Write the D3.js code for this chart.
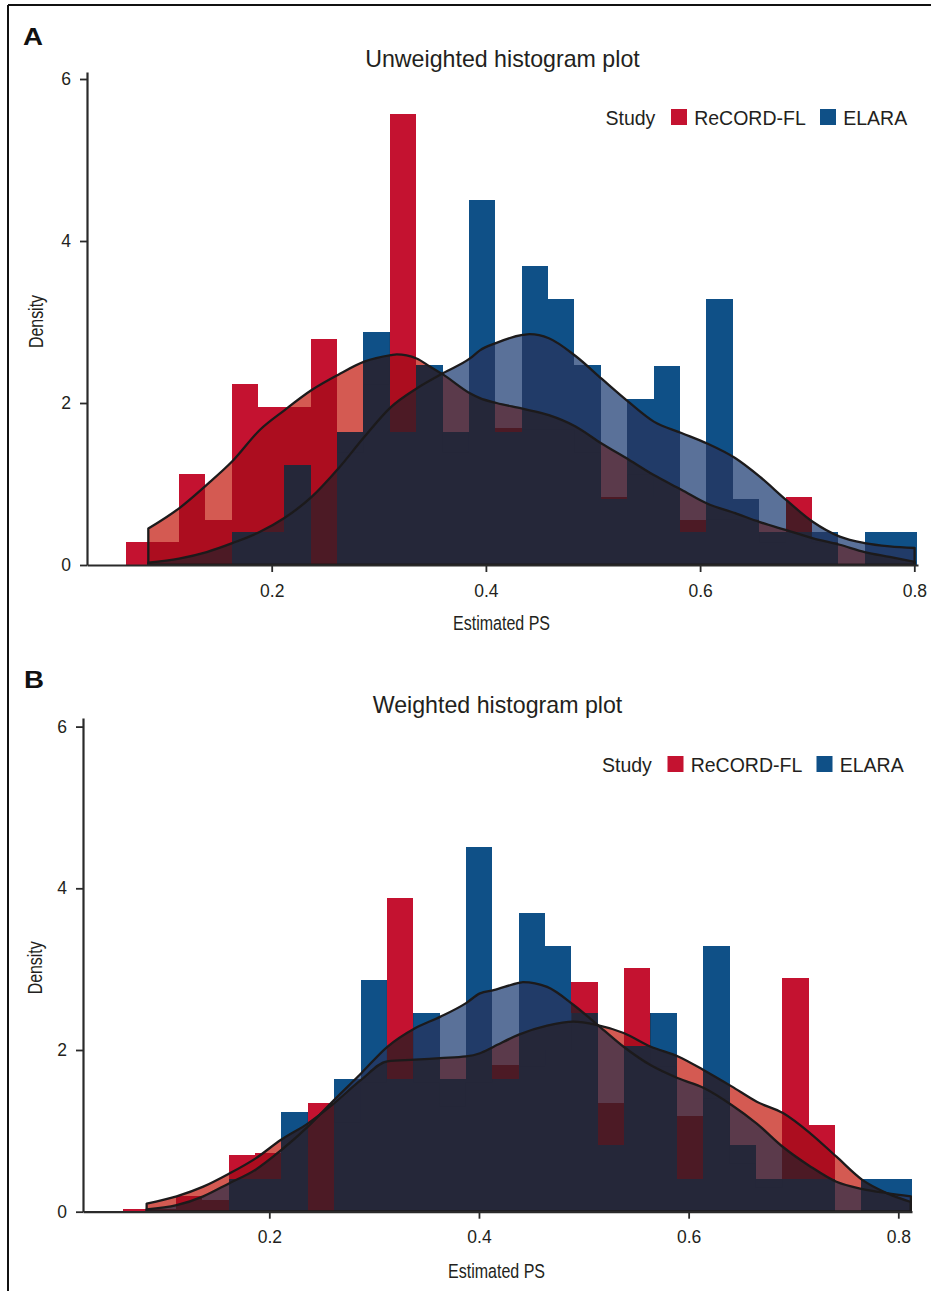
<!DOCTYPE html>
<html>
<head>
<meta charset="utf-8">
<script src="https://cdn.jsdelivr.net/npm/d3@7"></script>
<style>
  html, body { margin: 0; padding: 0; background: #fff; }
  svg { display: block; }
</style>
</head>
<body>
<svg id="chart" width="931" height="1291"></svg>
<script>
// ---------------- DATA ----------------
const studies = ["ReCORD-FL", "ELARA"];
const xTickValues = [0.2, 0.4, 0.6, 0.8];
const yTickValues = [0, 2, 4, 6];
const xTickLabels = ["0.2", "0.4", "0.6", "0.8"];
const yTickLabels = ["0", "2", "4", "6"];

// Panel A (unweighted): 30 bins
const binStartA = 0.0640;
const binWidthA = 0.02463;
const recordA = [0.28, 0.28, 1.12, 0.56, 2.23, 1.95, 1.95, 2.79, 1.39, 2.23,
                 5.57, 1.95, 1.39, 1.95, 1.69, 1.67, 1.67, 1.39, 0.84, 1.12,
                 0.84, 0.56, 0.56, 0.56, 0.28, 0.84, 0.28, 0, 0, 0];
const elaraA  = [0, 0, 0, 0, 0.41, 0.41, 1.23, 0, 1.64, 2.88,
                 1.64, 2.47, 1.64, 4.51, 1.64, 3.69, 3.28, 2.47, 0.82, 2.05,
                 2.46, 0.41, 3.28, 0.82, 0.41, 0.41, 0.41, 0, 0.41, 0.41];
const recordKdeA = [[0.0848,0.45],[0.1135,0.70],[0.1393,0.99],[0.1632,1.28],[0.1891,1.67],
  [0.2118,1.91],[0.2373,2.16],[0.2622,2.35],[0.2864,2.51],[0.3113,2.59],[0.3167,2.60],
  [0.3353,2.55],[0.3477,2.45],[0.3602,2.35],[0.3851,2.12],[0.3944,2.06],[0.4100,2.00],
  [0.4342,1.93],[0.4588,1.85],[0.4837,1.71],[0.5080,1.50],[0.5335,1.30],[0.5568,1.11],
  [0.5826,0.93],[0.6065,0.76],[0.6327,0.64],[0.6557,0.53],[0.6806,0.43],[0.7055,0.33],
  [0.7304,0.25],[0.7537,0.16],[0.7770,0.10],[0.8003,0.04]];
const elaraKdeA = [[0.0848,0.03],[0.1135,0.08],[0.1393,0.16],[0.1632,0.27],[0.1891,0.41],
  [0.2118,0.58],[0.2373,0.84],[0.2622,1.19],[0.2864,1.58],[0.3113,1.95],[0.3353,2.18],
  [0.3602,2.37],[0.3851,2.55],[0.3944,2.65],[0.4093,2.74],[0.4342,2.84],[0.4410,2.85],
  [0.4588,2.80],[0.4837,2.58],[0.5080,2.30],[0.5335,2.01],[0.5568,1.77],[0.5826,1.63],
  [0.6065,1.50],[0.6327,1.32],[0.6557,1.09],[0.6806,0.80],[0.7055,0.53],[0.7304,0.35],
  [0.7537,0.27],[0.7770,0.23],[0.8003,0.21]];

// Panel B (weighted): 30 bins
const binStartB = 0.0607;
const binWidthB = 0.025145;
const recordB = [0.035, 0.035, 0.19, 0.14, 0.70, 0.73, 0.80, 1.34, 1.10, 1.60,
                 3.88, 1.60, 1.30, 1.60, 1.81, 1.80, 2.00, 2.84, 1.34, 3.01,
                 1.80, 1.18, 1.40, 0.60, 0.30, 2.89, 1.07, 0, 0, 0];
const elaraB  = [0, 0, 0, 0, 0.41, 0.41, 1.23, 0, 1.64, 2.87,
                 1.64, 2.46, 1.64, 4.51, 1.64, 3.69, 3.29, 2.46, 0.82, 2.05,
                 2.46, 0.41, 3.29, 0.82, 0.41, 0.41, 0.41, 0, 0.41, 0.41];
const recordKdeB = [[0.0830,0.10],[0.1116,0.19],[0.1370,0.31],[0.1615,0.47],[0.1870,0.66],
  [0.2112,0.89],[0.2366,1.09],[0.2617,1.34],[0.2875,1.63],[0.3126,1.86],[0.3390,1.88],
  [0.3629,1.90],[0.3877,1.92],[0.4010,1.96],[0.4140,2.04],[0.4380,2.19],[0.4650,2.30],
  [0.4900,2.35],[0.5120,2.31],[0.5380,2.21],[0.5640,2.04],[0.5900,1.92],[0.6145,1.75],
  [0.6410,1.55],[0.6650,1.36],[0.6900,1.22],[0.7160,0.97],[0.7410,0.68],[0.7660,0.39],
  [0.7890,0.23],[0.8120,0.12]];
const elaraKdeB = [[0.0830,0.03],[0.1116,0.08],[0.1370,0.19],[0.1615,0.35],[0.1870,0.52],
  [0.2112,0.76],[0.2366,1.05],[0.2617,1.38],[0.2875,1.71],[0.3126,2.04],[0.3390,2.27],
  [0.3629,2.41],[0.3877,2.58],[0.4010,2.70],[0.4140,2.74],[0.4380,2.83],[0.4420,2.84],
  [0.4650,2.78],[0.4900,2.56],[0.5150,2.29],[0.5380,2.04],[0.5640,1.81],[0.5900,1.65],
  [0.6145,1.53],[0.6410,1.32],[0.6650,1.09],[0.6900,0.80],[0.7160,0.56],[0.7410,0.37],
  [0.7660,0.28],[0.7890,0.23],[0.8120,0.19]];

// ---------------- STYLE ----------------
const FONT = "'Liberation Sans', Arial, Helvetica, sans-serif";
const C = {
  red: "#C41230", blue: "#0F5087",
  coral: "#D45A52", slate: "#5A7199", mauve: "#5B3A4B",
  darkred: "#AC0D1F", maroon: "#4C1A25", darkblue: "#213B68", navy: "#252739",
  axis: "#2a2a2a", text: "#231F20", kde: "#1c1a1b"
};

const svg = d3.select("#chart");

// figure frame
svg.append("line").attr("x1", 8).attr("x2", 931).attr("y1", 5).attr("y2", 5)
  .attr("stroke", "#111").attr("stroke-width", 2);
svg.append("line").attr("x1", 8).attr("x2", 8).attr("y1", 5).attr("y2", 1291)
  .attr("stroke", "#111").attr("stroke-width", 2);

const defs = svg.append("defs");

function drawPanel(cfg) {
  const id = cfg.id;
  const pxPerUnit = (cfg.px08 - cfg.px02) / 0.6;
  const x = d3.scaleLinear()
    .domain([0.2 - (cfg.px02 - cfg.left) / pxPerUnit, 0.2 + (cfg.right - cfg.px02) / pxPerUnit])
    .range([cfg.left, cfg.right]);
  const y = d3.scaleLinear()
    .domain([0, (cfg.bottom - cfg.top) / cfg.yPerUnit])
    .range([cfg.bottom, cfg.top]);

  const bins = (vals) => vals.map((v, i) => ({
    v, x0: cfg.binStart + i * cfg.binWidth, x1: cfg.binStart + (i + 1) * cfg.binWidth
  })).filter(d => d.v > 0);
  const redBins = bins(cfg.red);
  const blueBins = bins(cfg.blue);

  const area = d3.area().x(d => x(d[0])).y0(y(0)).y1(d => y(d[1])).curve(d3.curveMonotoneX);
  const drPath = area(cfg.redKde);
  const dbPath = area(cfg.blueKde);

  defs.append("clipPath").attr("id", id + "-plot").append("rect")
    .attr("x", cfg.left).attr("y", cfg.top - 2)
    .attr("width", cfg.right - cfg.left).attr("height", cfg.bottom - cfg.top + 2);
  defs.append("clipPath").attr("id", id + "-dr").append("path").attr("d", drPath);
  defs.append("clipPath").attr("id", id + "-db").append("path").attr("d", dbPath);
  const rbClip = defs.append("clipPath").attr("id", id + "-rb");
  rbClip.selectAll("rect").data(redBins).join("rect")
    .attr("x", d => x(d.x0)).attr("width", d => x(d.x1) - x(d.x0))
    .attr("y", d => y(d.v)).attr("height", d => y(0) - y(d.v));

  const plot = svg.append("g").attr("clip-path", `url(#${id}-plot)`);

  const bars = (sel, data, fill) => sel.selectAll("rect").data(data).join("rect")
    .attr("x", d => x(d.x0)).attr("width", d => x(d.x1) - x(d.x0))
    .attr("y", d => y(d.v)).attr("height", d => y(0) - y(d.v))
    .attr("fill", fill).attr("shape-rendering", "crispEdges");

  // densities
  plot.append("path").attr("d", drPath).attr("fill", C.coral);
  plot.append("path").attr("d", dbPath).attr("fill", C.slate);
  plot.append("g").attr("clip-path", `url(#${id}-db)`)
    .append("path").attr("d", drPath).attr("fill", C.mauve);

  // red bars
  bars(plot.append("g"), redBins, C.red);
  bars(plot.append("g").attr("clip-path", `url(#${id}-dr)`), redBins, C.darkred);
  bars(plot.append("g").attr("clip-path", `url(#${id}-db)`), redBins, C.maroon);

  // blue bars
  bars(plot.append("g"), blueBins, C.blue);
  bars(plot.append("g").attr("clip-path", `url(#${id}-db)`), blueBins, C.darkblue);
  bars(plot.append("g").attr("clip-path", `url(#${id}-dr)`), blueBins, C.navy);
  bars(plot.append("g").attr("clip-path", `url(#${id}-rb)`), blueBins, C.navy);

  // density outlines
  plot.append("path").attr("d", drPath).attr("fill", "none")
    .attr("stroke", C.kde).attr("stroke-width", 2.3).attr("stroke-linejoin", "round");
  plot.append("path").attr("d", dbPath).attr("fill", "none")
    .attr("stroke", C.kde).attr("stroke-width", 2.3).attr("stroke-linejoin", "round");

  // axes
  const xAxis = d3.axisBottom(x).tickValues(xTickValues)
    .tickFormat((d, i) => xTickLabels[i]).tickSize(7).tickSizeOuter(0);
  const gx = svg.append("g").attr("transform", `translate(0,${cfg.bottom})`).call(xAxis);
  gx.select(".domain").attr("stroke", C.axis).attr("stroke-width", 2.2);
  gx.selectAll(".tick line").attr("stroke", C.axis).attr("stroke-width", 1.8);
  gx.selectAll(".tick text").attr("font-family", FONT).attr("font-size", 17.5)
    .attr("fill", C.text).attr("dy", null).attr("y", cfg.xLabelBase - cfg.bottom);

  const yAxis = d3.axisLeft(y).tickValues(yTickValues)
    .tickFormat((d, i) => yTickLabels[i]).tickSize(7).tickSizeOuter(0).tickPadding(9);
  const gy = svg.append("g").attr("transform", `translate(${cfg.left},0)`).call(yAxis);
  gy.select(".domain").attr("stroke", C.axis).attr("stroke-width", 2.2);
  gy.selectAll(".tick line").attr("stroke", C.axis).attr("stroke-width", 1.8);
  gy.selectAll(".tick text").attr("font-family", FONT).attr("font-size", 17.5)
    .attr("fill", C.text);

  // titles
  svg.append("text").attr("x", (cfg.left + cfg.right) / 2).attr("y", cfg.titleBase)
    .attr("text-anchor", "middle").attr("font-family", FONT).attr("font-size", 23.2)
    .attr("fill", C.text).text(cfg.title);
  svg.append("text").attr("x", cfg.letterX).attr("y", cfg.letterBase)
    .attr("font-family", FONT).attr("font-size", 24).attr("font-weight", "bold")
    .attr("textLength", 20).attr("lengthAdjust", "spacingAndGlyphs")
    .attr("fill", "#111").text(cfg.letter);
  svg.append("text").attr("x", (cfg.left + cfg.right) / 2 - 1).attr("y", cfg.xTitleBase)
    .attr("text-anchor", "middle").attr("font-family", FONT).attr("font-size", 20.5)
    .attr("textLength", 97).attr("lengthAdjust", "spacingAndGlyphs")
    .attr("fill", C.text).text("Estimated PS");
  const cy = (cfg.top + cfg.bottom) / 2 + 3;
  svg.append("text").attr("transform", `translate(${cfg.yTitleX},${cy}) rotate(-90)`)
    .attr("text-anchor", "middle").attr("font-family", FONT).attr("font-size", 20.5)
    .attr("textLength", 53).attr("lengthAdjust", "spacingAndGlyphs")
    .attr("fill", C.text).text("Density");

  // legend
  const lg = svg.append("g").attr("font-family", FONT).attr("font-size", 19.5).attr("fill", C.text);
  lg.append("text").attr("x", cfg.legX).attr("y", cfg.legBase).text("Study");
  const colors = [C.red, C.blue];
  const sqX = [cfg.legX + 65.5, cfg.legX + 214.5];
  const txX = [cfg.legX + 88.7, cfg.legX + 237.7];
  studies.forEach((s, i) => {
    lg.append("rect").attr("x", sqX[i]).attr("y", cfg.legBase - 15.5)
      .attr("width", 16).attr("height", 16).attr("fill", colors[i]);
    lg.append("text").attr("x", txX[i]).attr("y", cfg.legBase).text(s);
  });
}

drawPanel({
  id: "pA", letter: "A", title: "Unweighted histogram plot",
  left: 87, right: 918, top: 72, bottom: 565, px02: 271.7, px08: 914.3, yPerUnit: 81,
  binStart: binStartA, binWidth: binWidthA, red: recordA, blue: elaraA,
  redKde: recordKdeA, blueKde: elaraKdeA,
  titleBase: 67, letterX: 23, letterBase: 45, xLabelBase: 597, xTitleBase: 630,
  yTitleX: 43, legX: 605.5, legBase: 124.5
});
drawPanel({
  id: "pB", letter: "B", title: "Weighted histogram plot",
  left: 83, right: 912, top: 718, bottom: 1211.7, px02: 269.3, px08: 898.3, yPerUnit: 80.85,
  binStart: binStartB, binWidth: binWidthB, red: recordB, blue: elaraB,
  redKde: recordKdeB, blueKde: elaraKdeB,
  titleBase: 713, letterX: 24, letterBase: 688, xLabelBase: 1243, xTitleBase: 1278,
  yTitleX: 42, legX: 602, legBase: 771.5
});
</script>
</body>
</html>
